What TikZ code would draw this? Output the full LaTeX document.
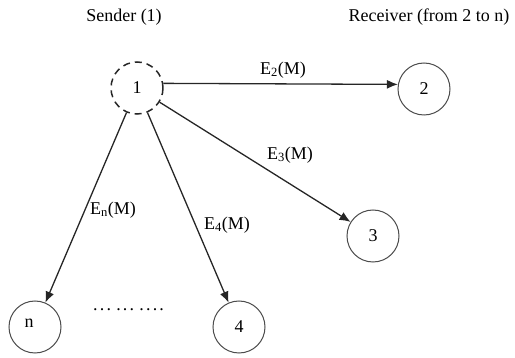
\documentclass[tikz,border=0pt]{standalone}
\usepackage{fontspec}
\setmainfont{Liberation Serif}
\usetikzlibrary{arrows.meta}
\newcommand{\dotgrp}[1]{\foreach \k in {1,...,#1}{.\hspace{2.2pt}}}
\begin{document}
\begin{tikzpicture}[x=1pt,y=-1pt,
  every node/.style={font=\fontsize{18}{20}\selectfont},
  peer/.style={circle,draw=black!70,line width=1pt,minimum size=52pt,inner sep=0pt},
  sender/.style={peer,draw=black!85,dash pattern=on 7pt off 5pt,line width=1.5pt},
  msg/.style={draw=black!85,line width=1.3pt,-{Latex[length=11pt,width=9pt]}},
  lbl/.style={inner sep=0pt}]
\useasboundingbox (0,0) rectangle (515,358);
\node[sender] (n1) at (137,88) {1};
\node[peer] (n2) at (424,89) {2};
\node[peer] (n3) at (373,236) {3};
\node[peer] (n4) at (239,327) {4};
\node[peer] (nn) at (35,327) {};
\node[lbl] (nlab) at (29,323) {n};
\node[lbl] (snd) at (124,17) {Sender (1)};
\node[lbl] (rcv) at (429,17) {Receiver (from 2 to n)};
\node[lbl,anchor=base west] (dots) at (93,311) {\dotgrp{3}\hspace{3pt}\dotgrp{3}\hspace{3pt}\dotgrp{4}};
\draw[msg] (n1.10) -- (n2.170);
\draw[msg] (n1) -- (n3);
\draw[msg] (n1) -- (n4);
\draw[msg] (n1) -- (nn);
\node[lbl] (e2) at (283,70) {E\textsubscript{2}(M)};
\node[lbl] (e3) at (290,155) {E\textsubscript{3}(M)};
\node[lbl] (en) at (113,210) {E\textsubscript{n}(M)};
\node[lbl] (e4) at (227,225) {E\textsubscript{4}(M)};
\end{tikzpicture}
\end{document}
